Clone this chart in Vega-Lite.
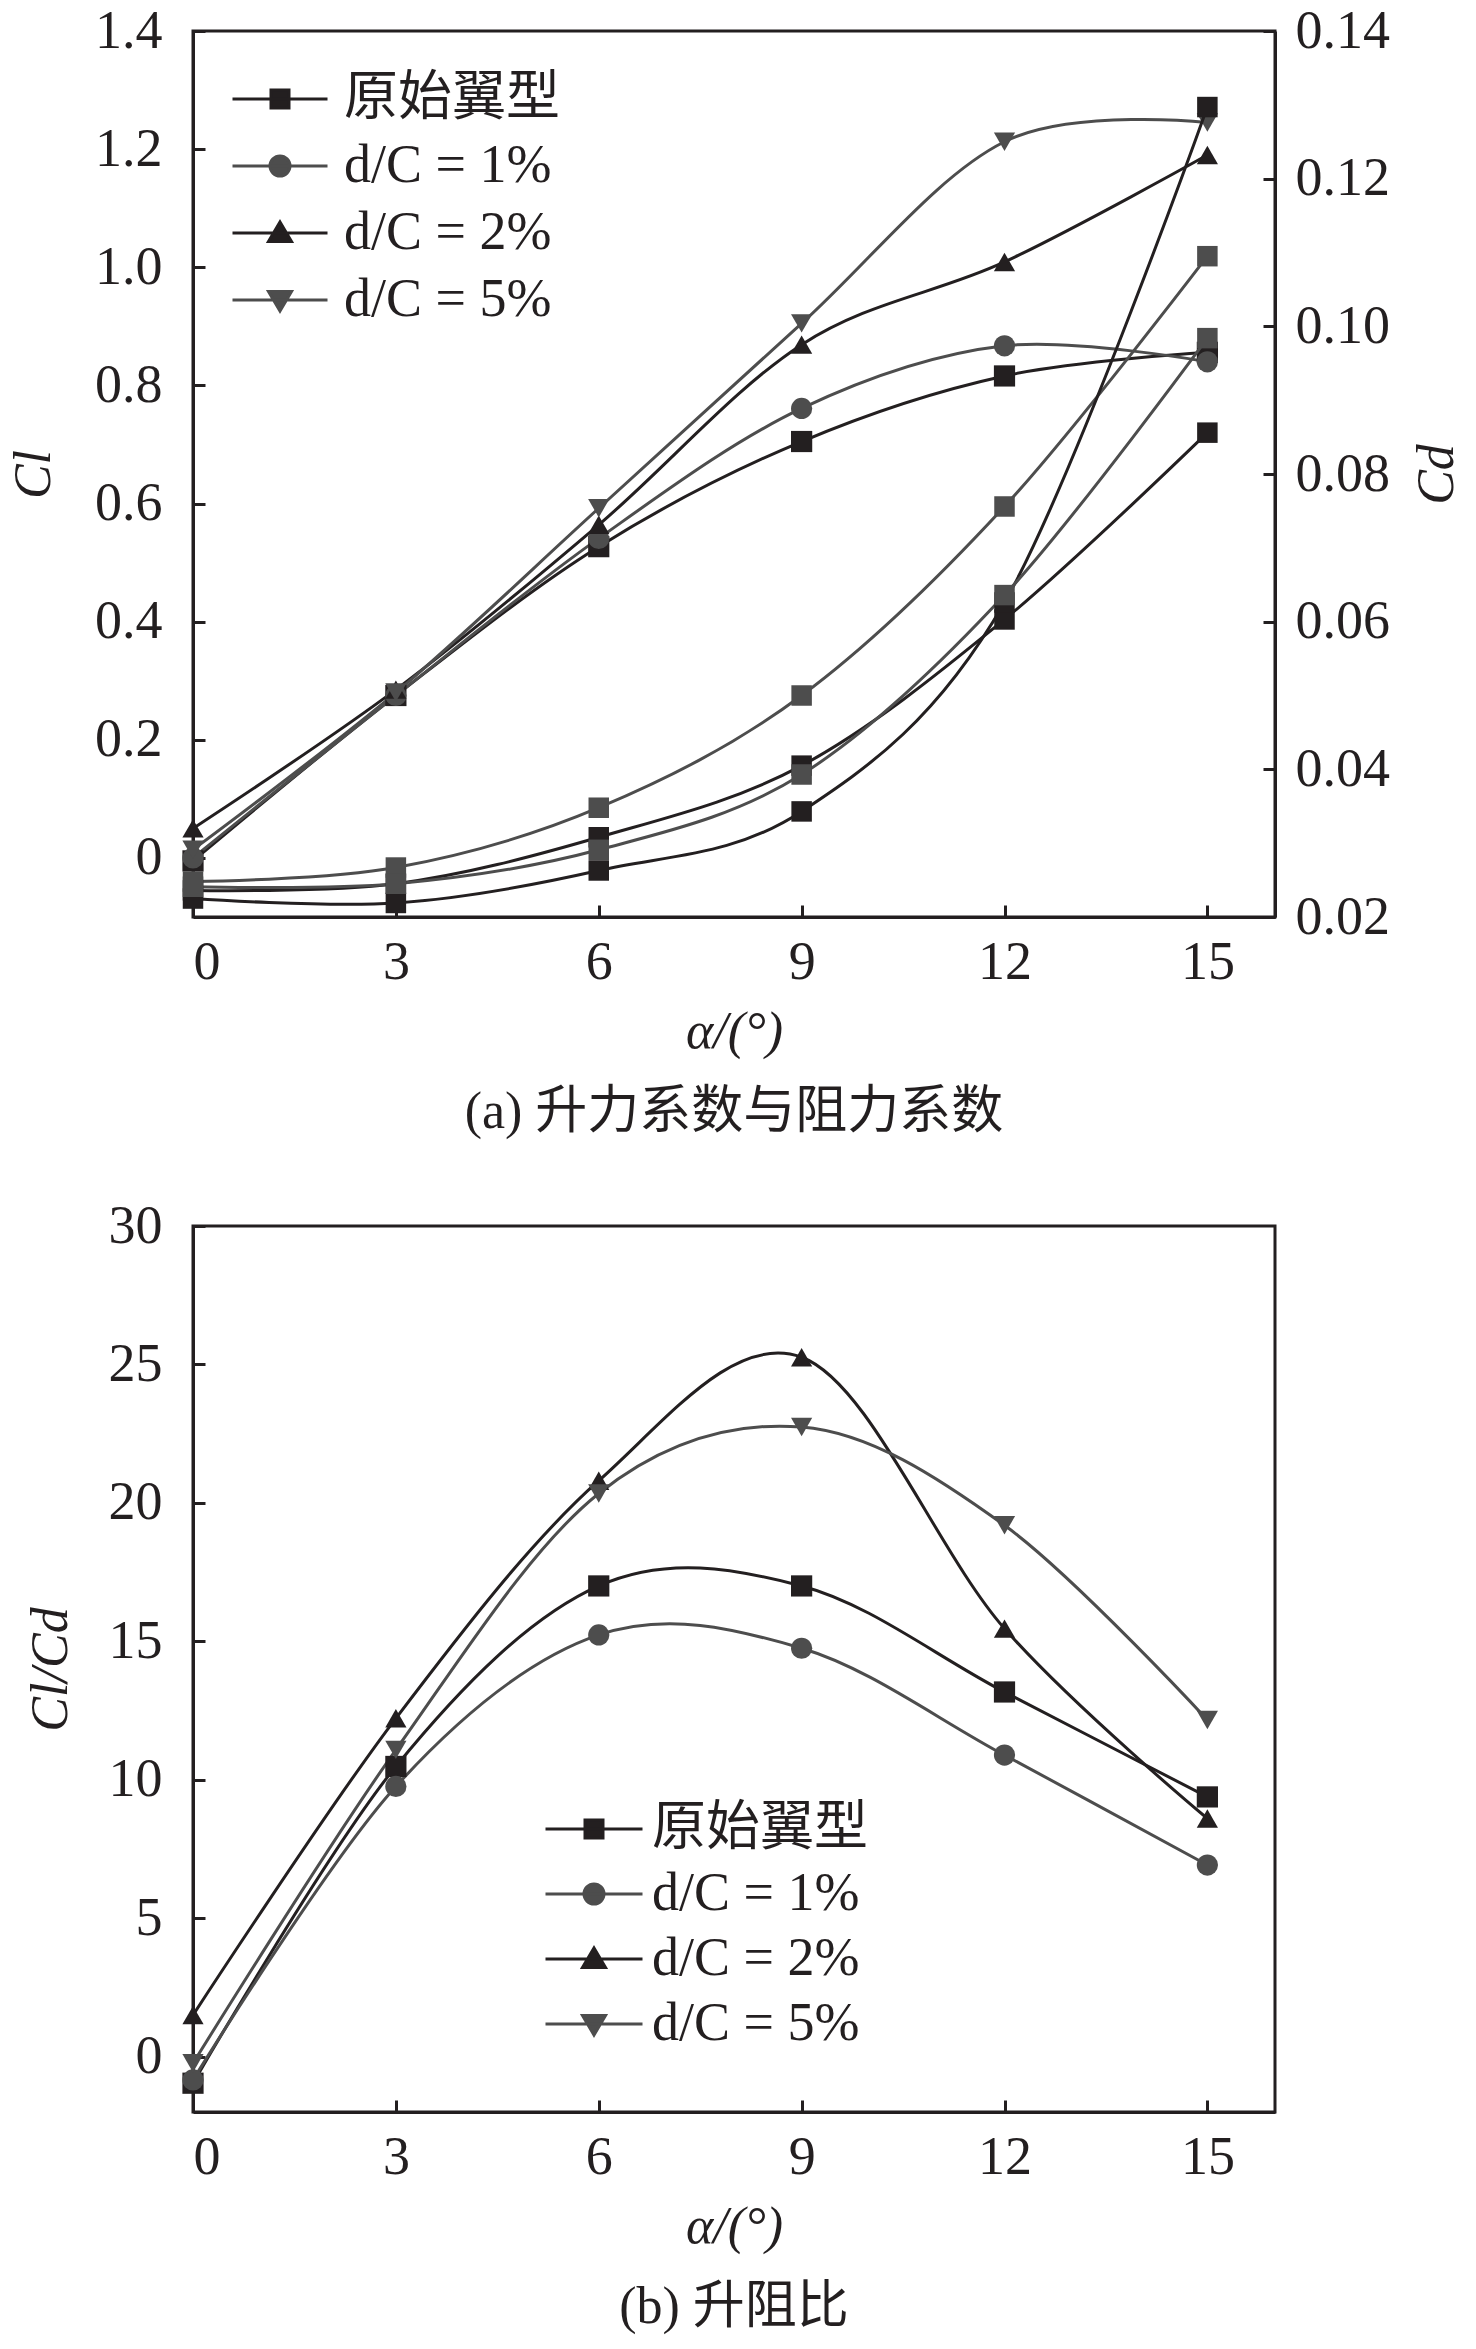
{
  "$schema": "https://vega.github.io/schema/vega-lite/v6.json",
  "background": "white",
  "padding": {"left": 6, "top": 2, "right": 10, "bottom": 10},
  "spacing": 57,
  "config": {
    "font": "Liberation Serif, Noto Sans CJK SC",
    "view": {"stroke": "#231f20", "strokeWidth": 3},
    "axis": {
      "grid": false,
      "domainColor": "#231f20",
      "domainWidth": 3,
      "tickColor": "#231f20",
      "tickWidth": 3,
      "tickSize": -12,
      "labelFont": "Liberation Serif",
      "labelFontSize": 54,
      "labelColor": "#231f20",
      "titleFont": "Liberation Serif",
      "titleFontSize": 52,
      "titleFontWeight": "normal",
      "titleColor": "#231f20"
    },
    "axisX": {"labelPadding": 30, "titlePadding": 17},
    "legend": {
      "orient": "none",
      "title": null,
      "padding": 0,
      "labelFont": "Liberation Serif, Noto Sans CJK SC",
      "labelFontSize": 54,
      "labelColor": "#231f20",
      "labelLimit": 500,
      "symbolSize": 400,
      "symbolStrokeWidth": 3,
      "symbolOpacity": 1
    },
    "title": {"fontSize": 52, "fontWeight": "normal", "color": "#231f20", "font": "Liberation Serif, Noto Sans CJK SC"}
  },
  "resolve": {"scale": {"color": "independent", "shape": "independent"}},
  "vconcat": [
    {
      "width": 1082,
      "height": 886,
      "title": {"text": "(a) 升力系数与阻力系数", "orient": "bottom", "anchor": "middle", "offset": 30},
      "data": {
        "values": [
          {"a": 0, "s": "原始翼型", "cl": -0.005, "cd": 0.0236},
          {"a": 3, "s": "原始翼型", "cl": 0.275, "cd": 0.0245},
          {"a": 6, "s": "原始翼型", "cl": 0.527, "cd": 0.0308},
          {"a": 9, "s": "原始翼型", "cl": 0.705, "cd": 0.0405},
          {"a": 12, "s": "原始翼型", "cl": 0.816, "cd": 0.0603},
          {"a": 15, "s": "原始翼型", "cl": 0.856, "cd": 0.0856},
          {"a": 0, "s": "d/C = 1%", "cl": 0.0, "cd": 0.0248},
          {"a": 3, "s": "d/C = 1%", "cl": 0.275, "cd": 0.0267},
          {"a": 6, "s": "d/C = 1%", "cl": 0.541, "cd": 0.0348},
          {"a": 9, "s": "d/C = 1%", "cl": 0.761, "cd": 0.05},
          {"a": 12, "s": "d/C = 1%", "cl": 0.867, "cd": 0.0756},
          {"a": 15, "s": "d/C = 1%", "cl": 0.84, "cd": 0.1095},
          {"a": 0, "s": "d/C = 2%", "cl": 0.05, "cd": 0.0225},
          {"a": 3, "s": "d/C = 2%", "cl": 0.285, "cd": 0.0219},
          {"a": 6, "s": "d/C = 2%", "cl": 0.564, "cd": 0.0263},
          {"a": 9, "s": "d/C = 2%", "cl": 0.869, "cd": 0.0343},
          {"a": 12, "s": "d/C = 2%", "cl": 1.009, "cd": 0.0626},
          {"a": 15, "s": "d/C = 2%", "cl": 1.19, "cd": 0.1297},
          {"a": 0, "s": "d/C = 5%", "cl": 0.014, "cd": 0.0241},
          {"a": 3, "s": "d/C = 5%", "cl": 0.28, "cd": 0.0245},
          {"a": 6, "s": "d/C = 5%", "cl": 0.592, "cd": 0.0291},
          {"a": 9, "s": "d/C = 5%", "cl": 0.905, "cd": 0.0393},
          {"a": 12, "s": "d/C = 5%", "cl": 1.2125, "cd": 0.0636},
          {"a": 15, "s": "d/C = 5%", "cl": 1.245, "cd": 0.0984}
        ]
      },
      "encoding": {
        "x": {
          "field": "a",
          "type": "quantitative",
          "scale": {"domain": [0, 16], "nice": false},
          "axis": {"values": [0, 3, 6, 9, 12, 15], "title": "α/(°)", "titleFontStyle": "italic"}
        },
        "color": {
          "field": "s",
          "type": "nominal",
          "scale": {"domain": ["原始翼型", "d/C = 1%", "d/C = 2%", "d/C = 5%"], "range": ["#231f20", "#4d4d4d", "#231f20", "#4d4d4d"]},
          "legend": {
            "legendX": 60,
            "legendY": 41,
            "labelOffset": 37,
            "rowPadding": 13,
            "symbolType": {"expr": "datum.value === '原始翼型' ? 'M-4.75,0H4.75M-0.9,-0.9H0.9V0.9H-0.9Z' : datum.value === 'd/C = 1%' ? 'M-4.75,0H4.75M-1,0A1,1 0 1 1 1,0A1,1 0 1 1 -1,0Z' : datum.value === 'd/C = 2%' ? 'M-4.75,0H4.75M0,-1.1L1.15,0.85H-1.15Z' : 'M-4.75,0H4.75M0,1.1L1.15,-0.85H-1.15Z'"}
          }
        }
      },
      "layer": [
        {
          "encoding": {
            "y": {
              "field": "cl",
              "type": "quantitative",
              "scale": {"domain": [-0.1, 1.4], "nice": false, "zero": false},
              "axis": {
                "orient": "left",
                "values": [0, 0.2, 0.4, 0.6, 0.8, 1.0, 1.2, 1.4],
                "labelExpr": "datum.value === 0 ? '0' : format(datum.value, '.1f')",
                "labelPadding": 43,
                "title": "Cl",
                "titleFontStyle": "italic",
                "titlePadding": 34
              }
            }
          },
          "layer": [
            {"mark": {"type": "line", "interpolate": "cardinal", "strokeWidth": 3}},
            {
              "mark": {"type": "point", "filled": true, "opacity": 1, "size": 450},
              "encoding": {
                "shape": {
                  "field": "s",
                  "type": "nominal",
                  "scale": {"domain": ["d/C = 1%", "d/C = 2%", "d/C = 5%", "原始翼型"], "range": ["circle", "triangle-up", "triangle-down", "square"]},
                  "legend": null
                }
              }
            }
          ]
        },
        {
          "encoding": {
            "y": {
              "field": "cd",
              "type": "quantitative",
              "scale": {"domain": [0.02, 0.14], "nice": false, "zero": false},
              "axis": {
                "orient": "right",
                "values": [0.02, 0.04, 0.06, 0.08, 0.1, 0.12, 0.14],
                "format": ".2f",
                "labelPadding": 32,
                "title": "Cd",
                "titleFontStyle": "italic",
                "titleAngle": 270,
                "titlePadding": 74
              }
            }
          },
          "layer": [
            {"mark": {"type": "line", "interpolate": "cardinal", "strokeWidth": 3}},
            {"mark": {"type": "square", "filled": true, "opacity": 1, "size": 420}}
          ]
        }
      ],
      "resolve": {"scale": {"y": "independent"}}
    },
    {
      "width": 1082,
      "height": 886,
      "title": {"text": "(b) 升阻比", "orient": "bottom", "anchor": "middle", "offset": 30},
      "data": {
        "values": [
          {"a": 0, "s": "原始翼型", "r": -0.96},
          {"a": 3, "s": "原始翼型", "r": 10.48},
          {"a": 6, "s": "原始翼型", "r": 17.0},
          {"a": 9, "s": "原始翼型", "r": 17.0},
          {"a": 12, "s": "原始翼型", "r": 13.17},
          {"a": 15, "s": "原始翼型", "r": 9.38},
          {"a": 0, "s": "d/C = 1%", "r": -0.84},
          {"a": 3, "s": "d/C = 1%", "r": 9.76},
          {"a": 6, "s": "d/C = 1%", "r": 15.23},
          {"a": 9, "s": "d/C = 1%", "r": 14.75},
          {"a": 12, "s": "d/C = 1%", "r": 10.89},
          {"a": 15, "s": "d/C = 1%", "r": 6.92},
          {"a": 0, "s": "d/C = 2%", "r": 1.5},
          {"a": 3, "s": "d/C = 2%", "r": 12.22},
          {"a": 6, "s": "d/C = 2%", "r": 20.8},
          {"a": 9, "s": "d/C = 2%", "r": 25.26},
          {"a": 12, "s": "d/C = 2%", "r": 15.46},
          {"a": 15, "s": "d/C = 2%", "r": 8.6},
          {"a": 0, "s": "d/C = 5%", "r": -0.24},
          {"a": 3, "s": "d/C = 5%", "r": 11.08},
          {"a": 6, "s": "d/C = 5%", "r": 20.34},
          {"a": 9, "s": "d/C = 5%", "r": 22.74},
          {"a": 12, "s": "d/C = 5%", "r": 19.19},
          {"a": 15, "s": "d/C = 5%", "r": 12.16}
        ]
      },
      "encoding": {
        "x": {
          "field": "a",
          "type": "quantitative",
          "scale": {"domain": [0, 16], "nice": false},
          "axis": {"values": [0, 3, 6, 9, 12, 15], "title": "α/(°)", "titleFontStyle": "italic"}
        },
        "y": {
          "field": "r",
          "type": "quantitative",
          "scale": {"domain": [-2, 30], "nice": false, "zero": false},
          "axis": {"values": [0, 5, 10, 15, 20, 25, 30], "labelPadding": 43, "title": "Cl/Cd", "titleFontStyle": "italic", "titlePadding": 31}
        },
        "color": {
          "field": "s",
          "type": "nominal",
          "scale": {"domain": ["原始翼型", "d/C = 1%", "d/C = 2%", "d/C = 5%"], "range": ["#231f20", "#4d4d4d", "#231f20", "#4d4d4d"]},
          "legend": {
            "legendX": 374,
            "legendY": 576,
            "labelOffset": 31,
            "rowPadding": 11,
            "symbolType": {"expr": "datum.value === '原始翼型' ? 'M-4.85,0H4.85M-0.9,-0.9H0.9V0.9H-0.9Z' : datum.value === 'd/C = 1%' ? 'M-4.85,0H4.85M-1,0A1,1 0 1 1 1,0A1,1 0 1 1 -1,0Z' : datum.value === 'd/C = 2%' ? 'M-4.85,0H4.85M0,-1.1L1.15,0.85H-1.15Z' : 'M-4.85,0H4.85M0,1.1L1.15,-0.85H-1.15Z'"}
          }
        }
      },
      "layer": [
        {"mark": {"type": "line", "interpolate": "cardinal", "strokeWidth": 3}},
        {
          "mark": {"type": "point", "filled": true, "opacity": 1, "size": 450},
          "encoding": {
            "shape": {
              "field": "s",
              "type": "nominal",
              "scale": {"domain": ["d/C = 1%", "d/C = 2%", "d/C = 5%", "原始翼型"], "range": ["circle", "triangle-up", "triangle-down", "square"]},
              "legend": null
            }
          }
        }
      ]
    }
  ]
}
